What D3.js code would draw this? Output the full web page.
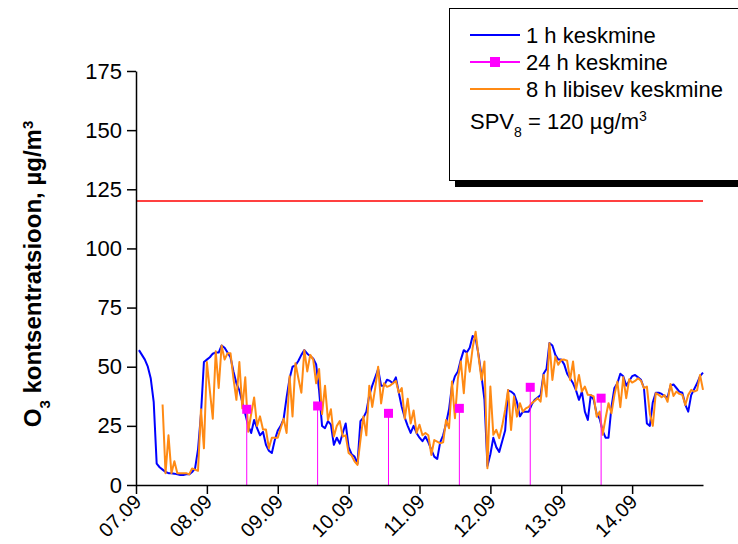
<!DOCTYPE html>
<html>
<head>
<meta charset="utf-8">
<script src="https://cdn.jsdelivr.net/npm/d3@7"></script>
<style>
  body { margin: 0; background: #fff; }
  svg { display: block; font-family: Arial, "Liberation Sans", sans-serif; }
</style>
</head>
<body>
<div id="chart"></div>
<script>
const WIDTH = 738;
const HEIGHT = 544;

// day labels on the x axis (ticks at 00:00 of each day)
const dayLabels = ["07.09", "08.09", "09.09", "10.09", "11.09", "12.09", "13.09", "14.09"];
const yTicks = [0, 25, 50, 75, 100, 125, 150, 175];

// 1 h keskmine, hourly from 07.09 01:00
const hourlyStart = 1;
const hourly = [
  57, 55, 53, 50, 45, 35, 9, 7.5, 6.5, 5.5, 5, 5,
  4.8, 4.5, 4.2, 4.2, 4.5, 4.5, 5.5, 7, 15, 30, 52, 53,
  54, 55.5, 56, 56, 59, 58, 56, 54, 48, 43, 40, 35,
  30, 25, 22, 27.5, 24, 21, 22.5, 17, 14.5, 13.5, 19, 23,
  25, 28, 37, 45, 50, 50.5, 52.5, 55, 57, 55.5, 54.5, 53.5,
  51, 40, 25, 24, 27, 25.5, 17, 20, 17.5, 22, 26, 16,
  13, 12, 9, 27, 28.5, 31, 38, 42, 45.5, 49, 42, 42,
  44.5, 44, 43, 45.5, 39, 33, 28.5, 25, 22, 25, 22, 20,
  18.5, 20.5, 18, 15, 12, 11, 18, 21, 26, 32, 42, 46,
  48, 53, 57, 56, 58, 63, 62, 55, 46, 36, 8, 13,
  20, 16, 14, 18.5, 23, 40, 39.5, 38.5, 35, 29, 31, 31,
  31, 34, 36, 37, 38, 47, 49, 60, 59, 55, 53, 53,
  51, 47, 45, 43, 40, 36, 39.5, 31, 27.5, 38, 36, 30,
  28, 23, 20, 20, 33, 41, 43, 47, 46, 42, 44, 46,
  46.5, 45.5, 44.5, 41, 26, 25, 35, 39, 39, 38.5, 37.5, 37,
  42, 42.5, 41, 39.5, 39, 34, 31, 38, 40.5, 43, 46, 47.5
];

// 8 h libisev keskmine, hourly from 07.09 09:00
const movingStart = 9;
const moving8h = [
  34, 5, 21, 5, 10, 5, 5, 5, 5, 4.5, 7, 6.5,
  6, 32, 15.5, 52, 40, 28, 56.5, 41, 59, 53, 55.7, 55.7,
  45, 36, 52, 32.4, 45.5, 22.5, 30, 37, 25, 29, 23.5, 23.5,
  15.5, 20, 20, 20, 24, 28, 22, 46, 29, 51.5, 45, 39,
  57, 48, 55, 53, 43, 49, 30, 42, 27.5, 32, 20.5, 25,
  27, 20.5, 21, 13.5, 12.5, 10, 8.5, 19, 29, 21, 42, 33,
  41, 50, 34.5, 43, 41.5, 42, 43, 44, 39, 41, 28, 36.5,
  26, 31.5, 22, 25.5, 21, 22, 21, 12.7, 19, 18.3, 17.6, 18,
  27.5, 24, 43.7, 28.2, 45, 52.2, 38.8, 55.7, 47.9, 58, 64.8, 54.3,
  44.4, 52.2, 7.1, 41.6, 21.2, 23.3, 19.8, 25, 31.7, 40.2, 23.3, 37.4,
  28.9, 34.6, 31, 32.4, 33, 34.6, 35.5, 36.7, 35.2, 46.5, 37.4, 59.9,
  44.4, 54.3, 50.8, 52.9, 53, 52.5, 44.4, 52.2, 40.2, 46.5, 39.5, 41.6,
  38.1, 38, 37.4, 28.9, 31, 21.2, 28.2, 34.6, 30.3, 38, 43.7, 32.9,
  45.6, 36.7, 44.7, 43.3, 44, 45.1, 44.1, 40.9, 41.6, 30, 25, 38.8,
  38.1, 37.1, 38, 35.2, 42.7, 37.6, 39.5, 38.5, 38.1, 33.8, 38.1, 40.2,
  39.5, 40, 46.5, 40.2
];

// 24 h keskmine
const dailyDays = [1, 2, 3, 4, 5, 6];   // index into dayLabels: 08.09 .. 13.09
const daily = [32.0, 33.4, 30.3, 32.4, 41.3, 36.7];

const limitValue = 120;   // SPV8

const margin = { left: 136, right: 35, top: 71, bottom: 59 };
const plotW = WIDTH - margin.left - margin.right;
const plotH = HEIGHT - margin.top - margin.bottom;

const svg = d3.select("#chart").append("svg")
    .attr("width", WIDTH)
    .attr("height", HEIGHT);

const g = svg.append("g")
    .attr("transform", "translate(" + margin.left + "," + margin.top + ")");

// hours since 07.09 00:00
const x = d3.scaleLinear()
    .domain([0, dayLabels.length * 24])
    .range([0, plotW]);

const y = d3.scaleLinear()
    .domain([0, 175])
    .range([plotH, 0]);

// limit line
g.append("line")
    .attr("x1", x(0)).attr("x2", x(dayLabels.length * 24))
    .attr("y1", y(limitValue)).attr("y2", y(limitValue))
    .attr("stroke", "#ff0000")
    .attr("stroke-width", 1.5);

const line = d3.line()
    .x(d => x(d.h))
    .y(d => y(d.v));

const hourlyData = hourly.map((v, i) => ({ h: hourlyStart + i, v: v }));
const movingData = moving8h.map((v, i) => ({ h: movingStart + i, v: v }));

g.append("path")
    .datum(hourlyData)
    .attr("fill", "none")
    .attr("stroke", "#0000ff")
    .attr("stroke-width", 2)
    .attr("stroke-linejoin", "round")
    .attr("d", line);

g.append("path")
    .datum(movingData)
    .attr("fill", "none")
    .attr("stroke", "#ff8a14")
    .attr("stroke-width", 2)
    .attr("stroke-linejoin", "round")
    .attr("d", line);

// daily means: drop line + square marker, placed mid-afternoon of the day
const dailyData = daily.map((v, i) => ({ h: dailyDays[i] * 24 + 13.5, v: v }));

g.selectAll(".stem")
    .data(dailyData)
    .enter().append("line")
    .attr("class", "stem")
    .attr("x1", d => x(d.h)).attr("x2", d => x(d.h))
    .attr("y1", d => y(d.v)).attr("y2", y(0))
    .attr("stroke", "#ff00ff")
    .attr("stroke-width", 1);

g.selectAll(".mark")
    .data(dailyData)
    .enter().append("rect")
    .attr("class", "mark")
    .attr("x", d => x(d.h) - 4.5)
    .attr("y", d => y(d.v) - 4.5)
    .attr("width", 9)
    .attr("height", 9)
    .attr("fill", "#ff00ff");

// axes
const yAxis = d3.axisLeft(y)
    .tickValues(yTicks)
    .tickSize(9)
    .tickSizeOuter(0)
    .tickPadding(5);

const xAxis = d3.axisBottom(x)
    .tickValues(dayLabels.map((d, i) => i * 24))
    .tickFormat((d, i) => dayLabels[i])
    .tickSize(9)
    .tickSizeOuter(0);

const yG = g.append("g").call(yAxis);
const xG = g.append("g")
    .attr("transform", "translate(0," + plotH + ")")
    .call(xAxis);

[yG, xG].forEach(a => {
    a.select(".domain").attr("stroke", "#000").attr("stroke-width", 1.5);
    a.selectAll(".tick line").attr("stroke", "#000").attr("stroke-width", 1.5);
    a.selectAll("text").attr("fill", "#000").style("font-size", "22px")
        .style("font-family", "Arial, 'Liberation Sans', sans-serif");
});

xG.selectAll(".tick text")
    .style("font-size", "20px")
    .attr("text-anchor", "end")
    .attr("dy", null)
    .attr("y", null)
    .attr("transform", "translate(6,18) rotate(-45)");

// y axis title
const title = svg.append("text")
    .attr("transform", "translate(41," + (margin.top + plotH / 2 - 4) + ") rotate(-90)")
    .attr("text-anchor", "middle")
    .style("font-size", "24px")
    .style("font-weight", "bold");
title.append("tspan").text("O");
title.append("tspan").attr("baseline-shift", "sub").style("font-size", "15px").text("3");
title.append("tspan").text(" kontsentratsioon, \u00b5g/m");
title.append("tspan").attr("baseline-shift", "super").style("font-size", "15px").text("3");

// legend
const legend = svg.append("g");
legend.append("rect")
    .attr("x", 455).attr("y", 14)
    .attr("width", 300).attr("height", 173)
    .attr("fill", "#000");
legend.append("rect")
    .attr("x", 449.5).attr("y", 8.5)
    .attr("width", 300).attr("height", 172)
    .attr("fill", "#fff")
    .attr("stroke", "#000")
    .attr("stroke-width", 1);

const legendItems = [
    { label: "1 h keskmine", color: "#0000ff", marker: false },
    { label: "24 h keskmine", color: "#ff00ff", marker: true },
    { label: "8 h libisev keskmine", color: "#ff8a14", marker: false }
];

legendItems.forEach((d, i) => {
    const ly = 35 + i * 27;
    legend.append("line")
        .attr("x1", 470).attr("x2", 520)
        .attr("y1", ly).attr("y2", ly)
        .attr("stroke", d.color)
        .attr("stroke-width", 2);
    if (d.marker) {
        legend.append("rect")
            .attr("x", 490).attr("y", ly - 5)
            .attr("width", 10).attr("height", 10)
            .attr("fill", d.color);
    }
    legend.append("text")
        .attr("x", 526).attr("y", ly + 8)
        .style("font-size", "22px")
        .text(d.label);
});

const spv = legend.append("text")
    .attr("x", 470).attr("y", 129)
    .style("font-size", "22px");
spv.append("tspan").text("SPV");
spv.append("tspan").attr("baseline-shift", "sub").style("font-size", "14px").text("8");
spv.append("tspan").text(" = " + limitValue + " \u00b5g/m");
spv.append("tspan").attr("baseline-shift", "super").style("font-size", "14px").text("3");
</script>
</body>
</html>
